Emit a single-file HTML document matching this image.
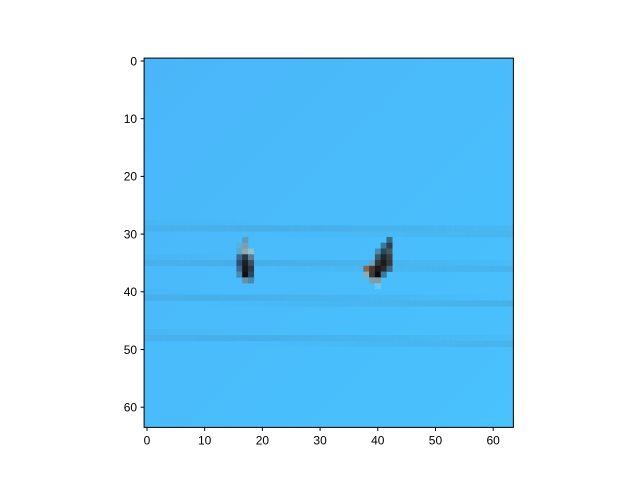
<!DOCTYPE html>
<html><head><meta charset="utf-8"><style>
body{margin:0;background:#fff;font-family:"Liberation Sans","DejaVu Sans",sans-serif;}
</style></head><body>
<svg id="chart" width="640" height="480" xmlns="http://www.w3.org/2000/svg">
<defs><linearGradient id="bg" x1="0" y1="0" x2="1" y2="1">
<stop offset="0" stop-color="#4ab6f9"/><stop offset="1" stop-color="#49c2fd"/></linearGradient></defs>
<g id="img"></g>
<g id="axes"></g>
</svg>
<script>
const ticks=[0,10,20,30,40,50,60];
const stripeRows=[[28.7,29.6],[34.7,35.8],[40.8,42.0],[47.7,48.8]];
const blobPixels=[
[17,31,'#5a9cc0'],[16,32,'#5ab0e0'],[17,32,'#7aa0b0'],
[16,33,'#5aa8d0'],[17,33,'#90a8a8'],[18,33,'#90c0d0'],
[16,34,'#3a6890'],[17,34,'#2a3840'],[18,34,'#5a8090'],
[16,35,'#2a5070'],[17,35,'#1a2028'],[18,35,'#3a5060'],
[16,36,'#3a6890'],[17,36,'#1a1818'],[18,36,'#2a3848'],
[16,37,'#4a88b0'],[17,37,'#0a1018'],[18,37,'#2a4860'],
[17,38,'#6a90a8'],[18,38,'#4a88b0'],
[42,31,'#3a6888'],[41,32,'#3a7aa0'],[42,32,'#2a4050'],
[40,33,'#4a8ab0'],[41,33,'#2a4858'],[42,33,'#4a5858'],
[40,34,'#3a5868'],[41,34,'#1a2830'],[42,34,'#3a4040'],
[39,35,'#6aa0c0'],[40,35,'#2a3838'],[41,35,'#1a1a18'],[42,35,'#3a3838'],
[38,36,'#806858'],[39,36,'#4a3830'],[40,36,'#1a1818'],[41,36,'#2a2828'],[42,36,'#3a6888'],
[38,37,'#90a8b0'],[39,37,'#3a3838'],[40,37,'#0a0a10'],[41,37,'#3a78a0'],
[39,38,'#7aa0b0'],[40,38,'#8a9898'],[40,39,'#6ac8f8']
];
const NS='http://www.w3.org/2000/svg';
const L=144.1,T=58.1,S=5.77,N=64;
const sx=v=>L+(v+0.5)*S, px=c=>L+c*S, py=r=>T+r*S;
const img=document.getElementById('img'), ax=document.getElementById('axes');
function mk(tag,attrs,parent){const e=document.createElementNS(NS,tag);for(const k in attrs)e.setAttribute(k,attrs[k]);parent.appendChild(e);return e;}
const bg=mk('rect',{x:L,y:T,width:N*S,height:N*S,fill:'url(#bg)'},img);


stripeRows.forEach((r,i)=>{
  const g=mk('g',{fill:'#46a6da',opacity:0.6},img);
  
  
  for(let c=0;c<N;c++){
    const rr=r[0]+(r[1]-r[0])*c/(N-1);
    const fl=Math.floor(rr), fr=rr-fl;
    mk('rect',{x:px(c),y:py(fl),width:S+0.3,height:S+0.3,opacity:1-fr},g);
    mk('rect',{x:px(c),y:py(fl+1),width:S+0.3,height:S+0.3,opacity:fr},g);
  }
});
blobPixels.forEach(b=>{
  const r=mk('rect',{x:px(b[0]),y:py(b[1]),width:S+0.3,height:S+0.3,fill:b[2]},img);
  
  
});
const fr=mk('rect',{x:L,y:T,width:N*S,height:N*S,fill:'none',stroke:'#000','stroke-width':1},ax);


ticks.forEach(t=>{
  const x=sx(t),y=T+(t+0.5)*S,B=T+N*S;
  mk('line',{x1:x,y1:B,x2:x,y2:B+3.5,stroke:'#000'},ax);
  const tx=mk('text',{x:x,y:B+17,'font-size':12,'text-anchor':'middle',fill:'#000'},ax);
  tx.textContent=t;
  
  
  mk('line',{x1:L,y1:y,x2:L-3.5,y2:y,stroke:'#000'},ax);
  const ty=mk('text',{x:L-7,y:y+4.3,'font-size':12,'text-anchor':'end',fill:'#000'},ax);
  ty.textContent=t;
  
  
});
</script>
</body></html>
